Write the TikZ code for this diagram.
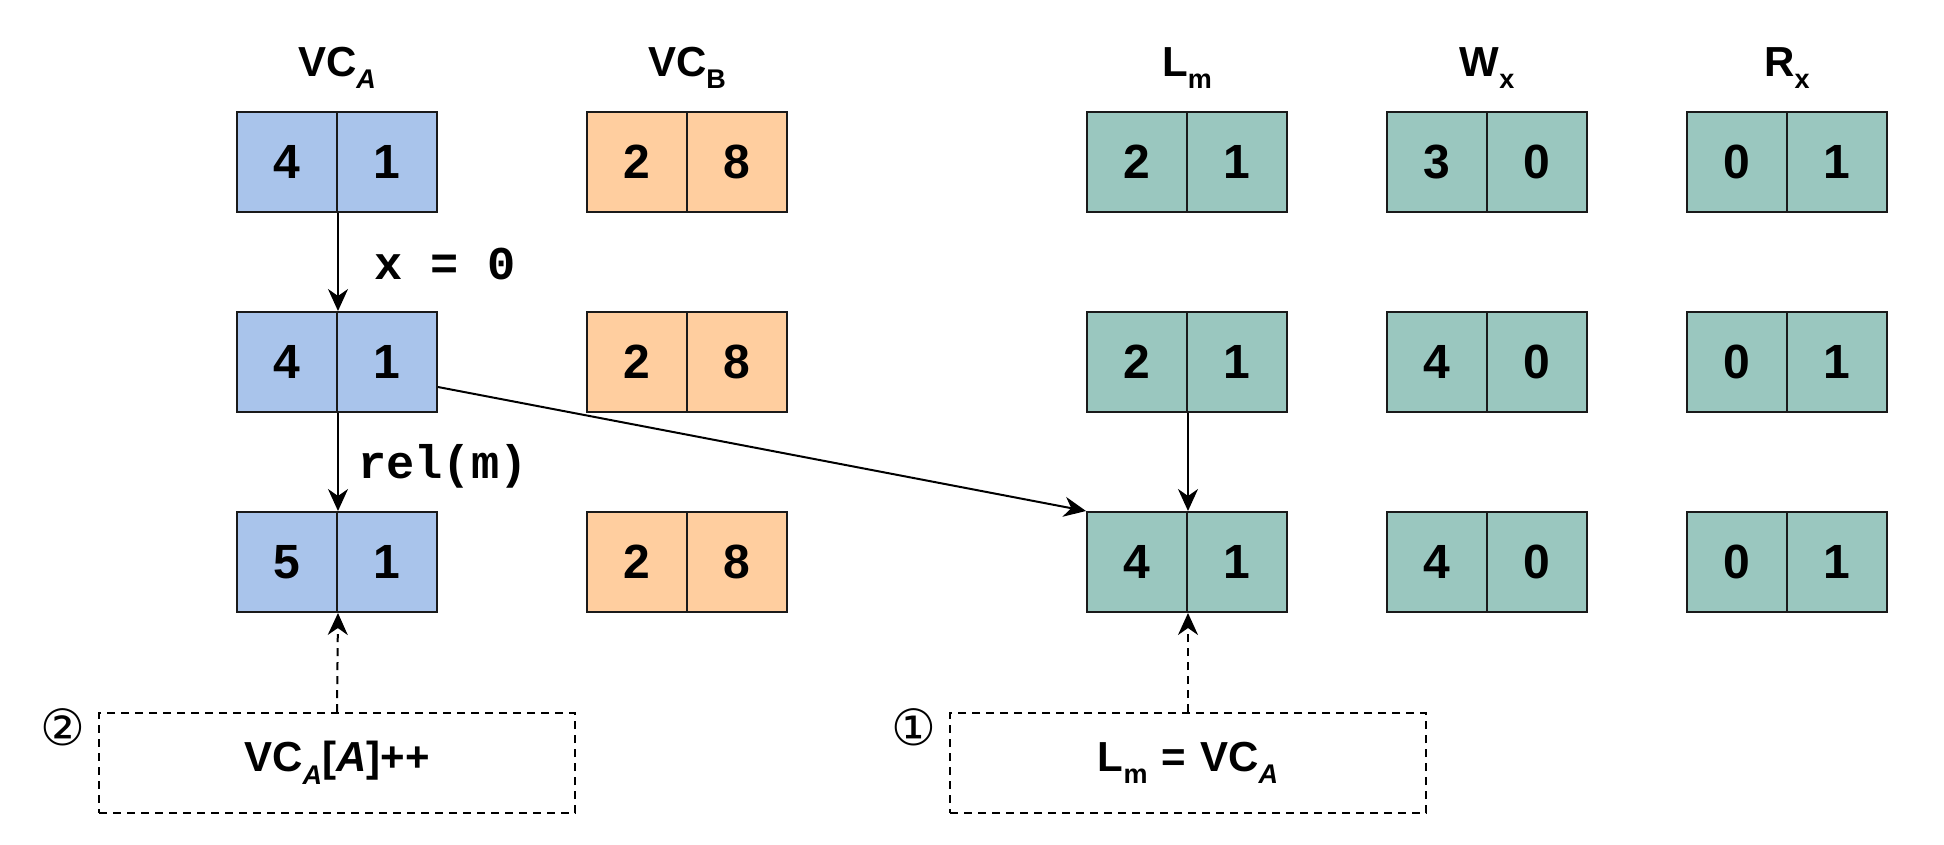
\documentclass[tikz,border=0pt]{standalone}
\usepackage{fontspec}
\setmainfont{Liberation Sans}
\setmonofont{Liberation Mono}
\newfontfamily\symfont{DejaVu Sans}
\usetikzlibrary{arrows.meta,calc}
\definecolor{cblue}{HTML}{A9C4EB}
\definecolor{corange}{HTML}{FFCE9F}
\definecolor{cgreen}{HTML}{9AC7BF}
\definecolor{cline}{HTML}{1A1A1A}
\newcommand\mysub[1]{\raisebox{-0.3em}{\fontsize{27}{27}\selectfont #1}}
\newcommand\cellpair[6]{%
  \node[cell, fill=#4] (#1l) at (#2-50,#3) {#5};
  \node[cell, fill=#4] (#1r) at (#2+50,#3) {#6};}
\begin{document}
\begin{tikzpicture}[x=1pt,y=-1pt,
  cell/.style={draw=cline, line width=2pt, minimum width=100pt, minimum height=100pt,
    inner sep=0pt, font=\fontsize{48}{48}\selectfont\bfseries},
  title/.style={font=\fontsize{42}{42}\selectfont\bfseries, inner sep=0pt},
  code/.style={font=\fontsize{47}{47}\selectfont\ttfamily\bfseries, inner sep=0pt},
  arr/.style={-{Stealth[length=22pt,width=20pt,inset=7pt]}, line width=2pt, draw=black},
  dbox/.style={draw=black, line width=2pt, dash pattern=on 8pt off 6pt,
    minimum width=476pt, minimum height=100pt, inner sep=0pt,
    font=\fontsize{42}{42}\selectfont\bfseries},
  circ/.style={font=\fontsize{50}{50}\selectfont\symfont, inner sep=0pt}]
\useasboundingbox (0,0) rectangle (1944,844);
\fill[white] (0,0) rectangle (1944,844);
% titles
\node[title] (tA) at (337,68) {VC\mysub{\itshape A}};
\node[title] (tB) at (687,68) {VC\mysub{B}};
\node[title] (tL) at (1187,68) {L\mysub{m}};
\node[title] (tW) at (1487,68) {W\mysub{x}};
\node[title] (tR) at (1787,68) {R\mysub{x}};
% row 1
\cellpair{a1}{337}{162}{cblue}{4}{1}
\cellpair{b1}{687}{162}{corange}{2}{8}
\cellpair{l1}{1187}{162}{cgreen}{2}{1}
\cellpair{w1}{1487}{162}{cgreen}{3}{0}
\cellpair{r1}{1787}{162}{cgreen}{0}{1}
% row 2
\cellpair{a2}{337}{362}{cblue}{4}{1}
\cellpair{b2}{687}{362}{corange}{2}{8}
\cellpair{l2}{1187}{362}{cgreen}{2}{1}
\cellpair{w2}{1487}{362}{cgreen}{4}{0}
\cellpair{r2}{1787}{362}{cgreen}{0}{1}
% row 3
\cellpair{a3}{337}{562}{cblue}{5}{1}
\cellpair{b3}{687}{562}{corange}{2}{8}
\cellpair{l3}{1187}{562}{cgreen}{4}{1}
\cellpair{w3}{1487}{562}{cgreen}{4}{0}
\cellpair{r3}{1787}{562}{cgreen}{0}{1}
% dashed boxes
\node[dbox] (d2) at (337,763) {VC\mysub{\itshape A}[\textit{A}]++};
\node[dbox] (d1) at (1188,763) {L\mysub{m}\,\,=\,\,VC\mysub{\itshape A}};
\node[circ] (c2) at (63,727) {②};
\node[circ] (c1) at (914,727) {①};
% arrows
\draw[arr] (a1l.south east) -- (a2l.north east);
\draw[arr] (a2l.south east) -- (a3l.north east);
\draw[arr] (l2l.south east) -- (l3l.north east);
\draw[arr] ($(a2r.east)+(0,25)$) -- (l3l.north west);
\draw[arr, dash pattern=on 8pt off 6pt] (d2.north) -- (a3l.south east);
\draw[arr, dash pattern=on 8pt off 6pt] (d1.north) -- (l3l.south east);
% labels
\node[code] (lx) at (445,264) {x = 0};
\node[code] (lr) at (443,466) {rel(m)};
\end{tikzpicture}
\end{document}
